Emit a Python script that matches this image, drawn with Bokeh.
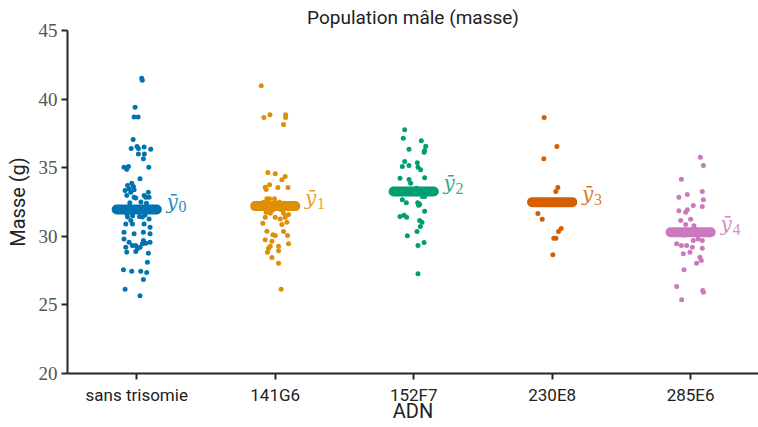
from bokeh.plotting import figure
from bokeh.models import ColumnDataSource, Range1d, FixedTicker
from bokeh.core.properties import value
from bokeh.embed import file_html
from bokeh.resources import INLINE

categories = ["sans trisomie", "141G6", "152F7", "230E8", "285E6"]
colors = ["#0173b2", "#de8f05", "#029e73", "#d55e00", "#cc78bc"]
means = [31.95, 32.2, 33.27, 32.49, 30.3]

# group 0 : sans trisomie
dx0 = [0.036, 0.040, -0.012, -0.019, 0.010, -0.026, -0.040, 0.002, 0.012, 0.053, 0.101, 0.012, 0.055, 0.048,
       -0.092, -0.060, -0.072, 0.087, 0.024, -0.067, -0.036, -0.024, -0.084, -0.055, -0.043, -0.019, 0.084,
       0.053, -0.072, -0.019, -0.007, 0.065, 0.089,
       -0.050, 0.030, 0.070, -0.090, 0.000, 0.050, -0.030, 0.060, -0.070, 0.020,
       -0.067, -0.043, -0.079, -0.031, 0.041, 0.089, 0.053, 0.096, -0.092, -0.019, 0.048, 0.096, -0.092,
       -0.055, -0.007, 0.048, 0.065, 0.096, -0.079, -0.031, 0.005, 0.024, 0.041, -0.072, -0.007, 0.084,
       0.077, -0.096, -0.036, 0.029, 0.072, 0.048, -0.084, 0.024]
y0 = [41.52, 41.38, 39.4, 38.7, 38.7, 37.05, 36.4, 36.55, 36.4, 36.5, 36.35, 36.0, 36.0, 35.65,
      35.04, 35.09, 34.87, 35.04, 34.19, 33.7, 33.87, 33.63, 33.34, 33.46, 33.21, 33.39, 33.21,
      32.97, 32.97, 32.85, 32.8, 32.85, 32.85,
      32.45, 32.5, 32.4, 32.1, 31.9, 32.0, 31.5, 31.55, 31.6, 31.45,
      31.4, 31.15, 30.9, 30.9, 31.4, 31.27, 30.9, 30.66, 30.3, 30.18, 30.3, 30.18, 29.8,
      29.57, 29.33, 29.69, 29.5, 29.57, 29.2, 29.33, 29.09, 29.2, 29.45, 28.84, 28.9, 28.77,
      28.11, 27.56, 27.46, 27.46, 27.36, 26.85, 26.14, 25.66]

# group 1 : 141G6
dx1 = [-0.101, -0.082, -0.038, 0.075, 0.075, 0.060, -0.053, 0.000, 0.072, 0.048, -0.041, -0.072, -0.065,
       0.019, 0.092, -0.060, -0.041, -0.005, -0.084,
       0.030, 0.060, -0.020, 0.040,
       -0.065, -0.036, 0.060, 0.096, -0.072, 0.000, 0.036, 0.072, -0.089, 0.048, 0.084, -0.060, 0.060,
       0.089, -0.017, 0.000, -0.072, -0.024, 0.096, 0.024, -0.036, -0.048, -0.056, 0.024, -0.024, 0.024, 0.043]
y1 = [40.97, 38.66, 38.86, 38.86, 38.66, 38.15, 34.65, 34.56, 34.36, 34.12, 33.75, 33.58, 33.41,
      33.56, 33.56, 32.73, 32.73, 32.73, 32.49,
      32.5, 32.4, 31.9, 31.95,
      31.76, 31.68, 31.68, 31.59, 31.39, 31.39, 31.27, 31.39, 30.95, 30.86, 31.03, 30.37, 30.35,
      30.06, 30.11, 30.06, 29.74, 29.64, 29.45, 29.28, 29.28, 29.13, 28.84, 28.94, 28.45, 28.04, 26.14]

# group 2 : 152F7
dx2 = [-0.065, -0.075, 0.055, 0.087, 0.079, 0.075, -0.034, -0.065, -0.082, -0.034, 0.026, 0.031, 0.050,
       -0.099, -0.034, -0.022, 0.079,
       -0.100, 0.020, 0.060,
       -0.082, -0.053, 0.029, 0.036, 0.043, 0.079, 0.079, 0.063, -0.099, -0.070, -0.051, 0.043, 0.060,
       0.048, 0.024, -0.046, 0.075, 0.031, 0.031]
y2 = [37.76, 37.15, 36.96, 36.57, 36.25, 36.13, 36.35, 35.45, 35.09, 35.16, 35.36, 35.04, 34.85,
      34.24, 34.14, 33.87, 34.26,
      33.4, 33.5, 33.1,
      32.66, 32.44, 32.44, 32.27, 32.34, 31.83, 32.9, 32.9, 31.44, 31.54, 31.39, 31.15, 31.03,
      30.71, 30.35, 30.04, 29.55, 29.33, 27.27]

# group 3 : 230E8
dx3 = [-0.058, 0.034, -0.060, 0.041, 0.026, -0.103, -0.072, 0.065, 0.046, 0.012, 0.027, 0.005]
y3 = [38.66, 36.55, 35.65, 33.56, 33.27, 31.66, 31.25, 30.57, 30.35, 29.86, 29.86, 28.65]

# group 4 : 285E6
dx4 = [0.070, 0.092, -0.067, -0.085, -0.024, 0.084, 0.092, 0.019, 0.084, -0.085, -0.036, -0.024,
       -0.072, 0.000, -0.036, 0.024,
       0.030, -0.050,
       0.019, 0.053, 0.084, -0.101, -0.067, -0.029, 0.012, 0.084, -0.053, -0.005, 0.067, 0.077, 0.043,
       -0.048, -0.101, 0.087, 0.092, -0.065]
y4 = [35.77, 35.16, 34.16, 32.85, 33.05, 33.27, 32.66, 32.24, 32.17, 31.86, 31.76, 31.93,
      31.15, 31.25, 30.86, 30.77,
      30.5, 30.1,
      29.69, 29.81, 29.69, 29.45, 29.33, 29.33, 29.2, 29.13, 28.72, 28.84, 28.48, 28.24, 28.04,
      27.56, 26.34, 26.05, 25.93, 25.37]

y_ticks = [20, 25, 30, 35, 40, 45]
title_text = "Population mâle (masse)"
x_label = "ADN"
y_label = "Masse (g)"

groups = [(dx0, y0), (dx1, y1), (dx2, y2), (dx3, y3), (dx4, y4)]

p = figure(width=758, height=427, output_backend="svg", toolbar_location=None,
           x_range=Range1d(-0.5, 4.49), y_range=Range1d(20, 45),
           min_border_left=67, min_border_right=0, min_border_top=30, min_border_bottom=54)

p.title.text = title_text
p.title.align = "center"
p.title.text_font = "Roboto"
p.title.text_font_style = "normal"
p.title.text_font_size = "19px"
p.title.text_color = "#222222"
p.title.offset = 0
p.title.standoff = 4

for i, (dx, ys) in enumerate(groups):
    src = ColumnDataSource(dict(x=[i + d for d in dx], y=ys))
    p.scatter("x", "y", source=src, size=5, color=colors[i], line_color=None)

bar_src = ColumnDataSource(dict(x0=[i - 0.145 for i in range(5)], x1=[i + 0.145 for i in range(5)],
                                y=means, c=colors))
p.segment(x0="x0", y0="y", x1="x1", y1="y", source=bar_src, line_color="c",
          line_width=10, line_cap="round")

lab_src = ColumnDataSource(dict(x=[i + 0.215 for i in range(5)], y=means, c=colors,
                                t=["ȳ" for _ in range(5)], n=[str(i) for i in range(5)]))
p.text(x="x", y="y", text="t", source=lab_src, text_color="c", text_alpha=0.85,
       text_font=value("DejaVu Serif"), text_font_style="italic", text_font_size="20px",
       text_baseline="middle", y_offset=-8)
p.text(x="x", y="y", text="n", source=lab_src, text_color="c", text_alpha=0.85,
       text_font=value("Liberation Serif"), text_font_size="16px",
       text_baseline="middle", x_offset=12, y_offset=-3)

p.xgrid.grid_line_color = None
p.ygrid.grid_line_color = None
p.outline_line_color = None

p.xaxis.ticker = FixedTicker(ticks=list(range(5)))
p.xaxis.major_label_overrides = {i: c for i, c in enumerate(categories)}
p.yaxis.ticker = FixedTicker(ticks=y_ticks)

for ax in (p.xaxis[0], p.yaxis[0]):
    ax.axis_line_width = 2
    ax.axis_line_color = "#262626"
    ax.major_tick_line_width = 2
    ax.major_tick_line_color = "#262626"
    ax.major_tick_out = 6
    ax.major_tick_in = 0
    ax.minor_tick_line_color = None
    ax.axis_label_text_font = "Roboto"
    ax.axis_label_text_font_style = "normal"
    ax.axis_label_text_font_size = "20px"
    ax.axis_label_text_color = "#222222"

p.xaxis.axis_label = x_label
p.yaxis.axis_label = y_label
p.xaxis.major_label_text_font = "Roboto"
p.xaxis.major_label_text_font_size = "17px"
p.xaxis.major_label_text_color = "#222222"
p.xaxis.major_label_standoff = 5
p.xaxis.axis_label_standoff = -9
p.yaxis.major_label_text_font = "Liberation Serif"
p.yaxis.major_label_text_font_size = "19px"
p.yaxis.major_label_text_color = "#555555"
p.yaxis.major_label_standoff = 4
p.yaxis.axis_label_standoff = 6

open("out.html", "w").write(file_html(p, INLINE))
